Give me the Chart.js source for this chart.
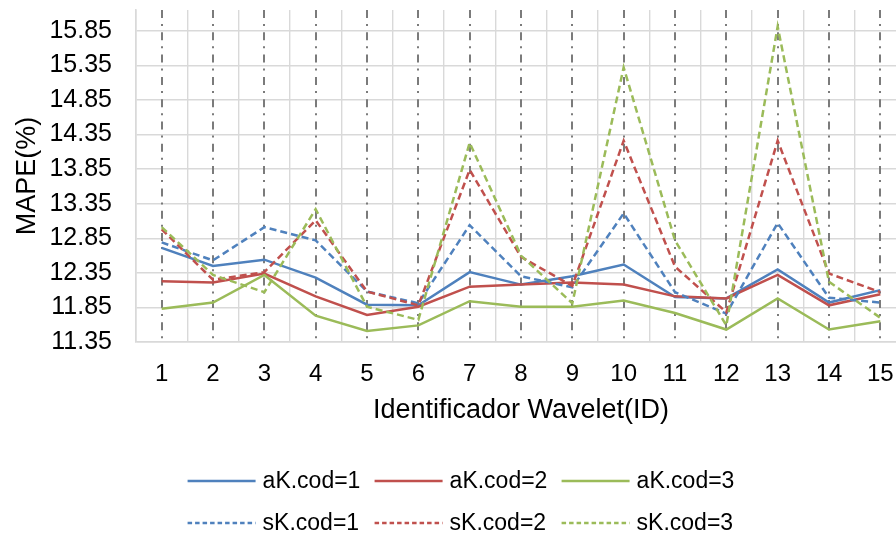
<!DOCTYPE html>
<html>
<head>
<meta charset="utf-8">
<script src="https://cdn.jsdelivr.net/npm/chart.js@4.4.1/dist/chart.umd.min.js"></script>
<style>
  html, body { margin: 0; padding: 0; background: #fff; overflow: hidden; }
  #wrap { width: 930px; height: 538px; position: relative; }
</style>
</head>
<body>
<div id="wrap"><canvas id="mape"></canvas></div>
<script>
// wavelet ids on the x axis
const waveletIds = ['1', '2', '3', '4', '5', '6', '7', '8', '9', '10', '11', '12', '13', '14', '15'];
const yTicks = [11.35, 11.85, 12.35, 12.85, 13.35, 13.85, 14.35, 14.85, 15.35, 15.85];

// MAPE values
const aK1 = [12.71, 12.45, 12.54, 12.28, 11.89, 11.88, 12.36, 12.18, 12.30, 12.47, 12.00, 11.98, 12.40, 11.92, 12.10];
const aK2 = [12.23, 12.21, 12.34, 12.01, 11.74, 11.86, 12.15, 12.18, 12.21, 12.18, 12.01, 11.98, 12.32, 11.88, 12.04];
const aK3 = [11.83, 11.92, 12.32, 11.73, 11.51, 11.59, 11.94, 11.86, 11.86, 11.95, 11.77, 11.53, 11.98, 11.53, 11.65];
const sK1 = [12.79, 12.53, 13.01, 12.82, 12.08, 11.91, 13.04, 12.30, 12.14, 13.21, 12.07, 11.76, 13.07, 11.99, 11.92];
const sK2 = [12.98, 12.25, 12.36, 13.11, 12.08, 11.88, 13.84, 12.58, 12.16, 14.26, 12.44, 11.78, 14.26, 12.34, 12.07];
const sK3 = [13.01, 12.32, 12.07, 13.27, 11.86, 11.67, 14.23, 12.60, 11.91, 15.32, 12.82, 11.59, 15.91, 12.22, 11.70];

const blue = '#4f81bd', red = '#c0504d', green = '#9bbb59';
const FONT = "'Liberation Sans', Arial, sans-serif";
const dash = [7, 4];

function series(label, data, color, dashed, order) {
    return {
        label: label,
        data: data,
        borderColor: color,
        backgroundColor: color,
        borderWidth: 2.5,
        borderDash: dashed ? dash : [],
        pointRadius: 0,
        tension: 0,
        fill: false,
        order: order
    };
}

// dash-dot lines on each category centre
const centreLines = {
    id: 'centreLines',
    beforeDatasetsDraw(chart) {
        const {ctx, chartArea, scales: {x}} = chart;
        ctx.save();
        ctx.strokeStyle = '#7b7b7b';
        ctx.lineWidth = 2;
        ctx.setLineDash([8, 6, 2, 6.3]);
        waveletIds.forEach((id, i) => {
            const px = Math.round(x.getPixelForValue(i));
            ctx.beginPath();
            ctx.moveTo(px, chartArea.top);
            ctx.lineTo(px, chartArea.bottom);
            ctx.stroke();
        });
        ctx.restore();
    }
};

// legend in two rows of three
const gridLegend = {
    id: 'gridLegend',
    afterDraw(chart) {
        const ctx = chart.ctx;
        const sets = chart.data.datasets;
        const rowsY = [481, 523];
        const lineLen = 68, gap = 7, colStep = 187;
        ctx.save();
        ctx.font = '23px ' + FONT;
        ctx.textBaseline = 'middle';
        ctx.fillStyle = '#000';
        const lastW = lineLen + gap + ctx.measureText(sets[2].label).width;
        const startX = chart.width / 2 - 4 - (2 * colStep + lastW) / 2;
        sets.forEach((ds, i) => {
            const row = Math.floor(i / 3), col = i % 3;
            const x0 = startX + col * colStep;
            const y = rowsY[row];
            ctx.beginPath();
            ctx.strokeStyle = ds.borderColor;
            ctx.lineWidth = 2.5;
            ctx.setLineDash(ds.borderDash.length ? [4.5, 3] : []);
            ctx.moveTo(x0, y);
            ctx.lineTo(x0 + lineLen, y);
            ctx.stroke();
            ctx.fillText(ds.label, x0 + lineLen + gap, y + 1);
        });
        ctx.restore();
    }
};

new Chart(document.getElementById('mape'), {
    type: 'line',
    data: {
        labels: waveletIds,
        datasets: [
            series('aK.cod=1', aK1, blue, false, 6),
            series('aK.cod=2', aK2, red, false, 5),
            series('aK.cod=3', aK3, green, false, 4),
            series('sK.cod=1', sK1, blue, true, 3),
            series('sK.cod=2', sK2, red, true, 2),
            series('sK.cod=3', sK3, green, true, 1)
        ]
    },
    options: {
        responsive: true,
        maintainAspectRatio: false,
        animation: false,
        layout: { padding: { top: 10, right: 24, bottom: 111, left: 0 } },
        plugins: {
            legend: { display: false },
            tooltip: { enabled: false }
        },
        scales: {
            x: {
                type: 'category',
                offset: true,
                afterFit: (scale) => { scale.height = 85; },
                grid: { offset: true, color: '#d9d9d9', lineWidth: 1.4, drawTicks: false },
                border: { color: '#d9d9d9', width: 1.6 },
                ticks: { color: '#000', font: { family: FONT, size: 24 }, padding: 18, maxRotation: 0, autoSkip: false },
                title: {
                    display: true,
                    text: 'Identificador Wavelet(ID)',
                    color: '#000',
                    font: { family: FONT, size: 27 },
                    padding: { top: 6, bottom: 0 }
                }
            },
            y: {
                min: 11.35,
                max: 16.15,
                afterBuildTicks: (scale) => { scale.ticks = yTicks.map(v => ({ value: v })); },
                afterFit: (scale) => {
                    scale.width = 136;
                    scale.paddingTop = 0;
                    scale.paddingBottom = 0;
                },
                grid: { color: '#d9d9d9', lineWidth: 1.4, drawTicks: false },
                border: { color: '#d9d9d9', width: 1.6 },
                ticks: {
                    color: '#000',
                    font: { family: FONT, size: 25 },
                    padding: 24,
                    autoSkip: false,
                    callback: (v) => Number(v).toFixed(2)
                },
                title: {
                    display: true,
                    text: 'MAPE(%)',
                    color: '#000',
                    font: { family: FONT, size: 27 },
                    padding: { top: 11, bottom: 0 }
                }
            }
        }
    },
    plugins: [centreLines, gridLegend]
});
</script>
</body>
</html>
